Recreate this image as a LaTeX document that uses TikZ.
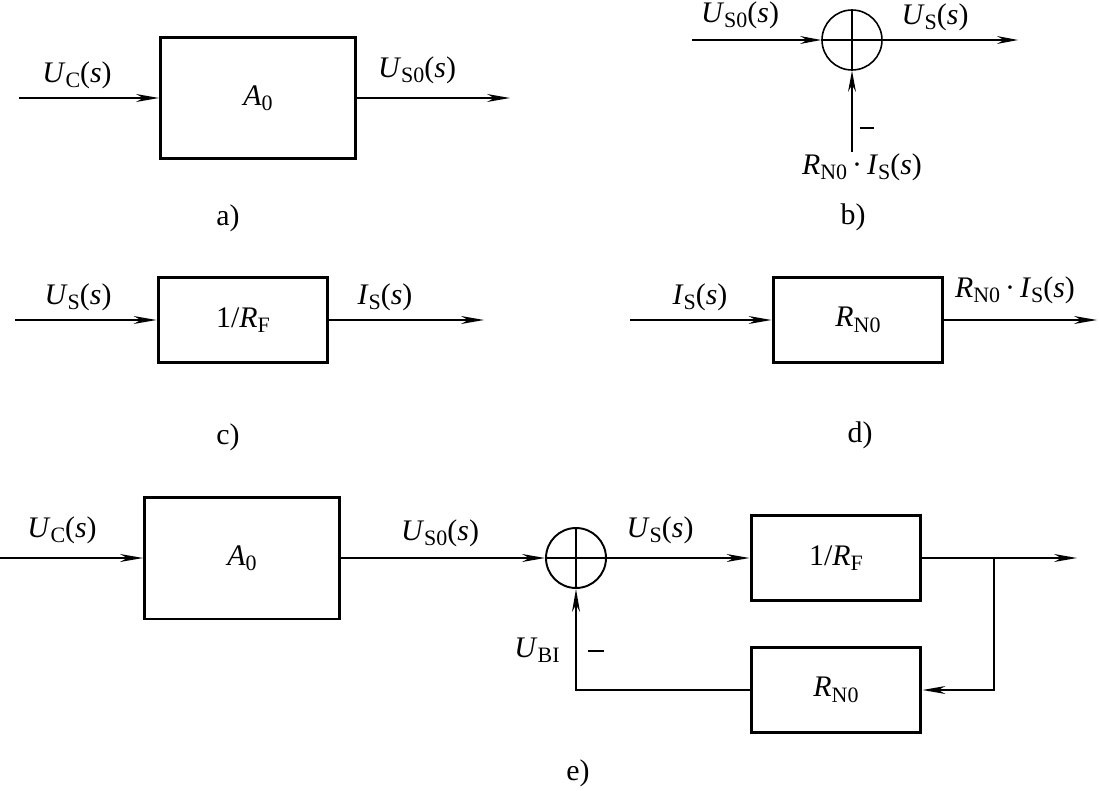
\documentclass[tikz,border=0pt]{standalone}
\usepackage{fontspec}
\setmainfont{Liberation Serif}
\usetikzlibrary{arrows.meta}
\newcommand\mysub[1]{\raisebox{-0.4ex}{\fontsize{12.5}{13}\selectfont #1}}
\newcommand\V[2]{\textit{#1}\mysub{#2}}
\begin{document}
\begin{tikzpicture}[x=0.02cm,y=-0.02cm,
  txt/.style={font=\fontsize{17}{20}\selectfont, inner sep=0pt},
  bigbox/.style={draw, line width=1.7pt, minimum width=3.9cm, minimum height=2.44cm, inner sep=0pt, font=\fontsize{17}{20}\selectfont},
  smallbox/.style={draw, line width=1.7pt, minimum width=3.4cm, minimum height=1.7cm, inner sep=0pt, font=\fontsize{17}{20}\selectfont},
  sumnode/.style={circle, draw, minimum size=1.2cm, inner sep=0pt},
  conn/.style={line width=1.1pt, -{Stealth[length=13pt,width=4.5pt,inset=4pt]}},
  thin conn/.style={line width=0.6pt, -{Stealth[length=12pt,width=4.5pt,inset=4pt]}}
]
\useasboundingbox (0,0) rectangle (1099,791);

% ---------- a) ----------
\node[bigbox] (a0) at (258,98) {\V{A}{0}};
\coordinate (ain) at (19,98);
\coordinate (aout) at (510,98);
\draw[conn] (ain) -- (a0.west);
\draw[conn] (a0.east) -- (aout);
\node[txt] (la1) at (77,75) {\V{U}{C}(\textit{s})};
\node[txt] (la2) at (417,70) {\V{U}{S0}(\textit{s})};
\node[txt] (lablea) at (228,218) {a)};

% ---------- b) ----------
\node[sumnode, line width=0.9pt] (s1) at (852,40) {};
\draw[line width=0.9pt] (s1.north) -- (s1.south);
\coordinate (bin) at (692,40);
\coordinate (bout) at (1018,40);
\coordinate (bbot) at (852,152);
\draw[thin conn] (bin) -- (s1.west);
\draw[line width=0.6pt] (s1.west) -- (s1.east);
\draw[thin conn] (s1.east) -- (bout);
\draw[thin conn] (bbot) -- (s1.south);
\node[txt] (lb1) at (740,15) {\V{U}{S0}(\textit{s})};
\node[txt] (lb2) at (935,17) {\V{U}{S}(\textit{s})};
\node[txt] (lbm) at (867,128) {\rule{0.5em}{0.7pt}};
\node[txt] (lb3) at (862,167) {\V{R}{N0}\,·\,\V{I}{S}(\textit{s})};
\node[txt] (lableb) at (853,217) {b)};

% ---------- c) ----------
\node[smallbox] (c1) at (243,320) {1/\V{R}{F}};
\coordinate (cin) at (15,320);
\coordinate (cout) at (484,320);
\draw[conn] (cin) -- (c1.west);
\draw[conn] (c1.east) -- (cout);
\node[txt] (lc1) at (78,297) {\V{U}{S}(\textit{s})};
\node[txt] (lc2) at (385,297) {\V{I}{S}(\textit{s})};
\node[txt] (lablec) at (228,437) {c)};

% ---------- d) ----------
\node[smallbox] (d1) at (858,320) {\V{R}{N0}};
\coordinate (din) at (630,320);
\coordinate (dout) at (1097,320);
\draw[conn] (din) -- (d1.west);
\draw[conn] (d1.east) -- (dout);
\node[txt] (ld1) at (700,297) {\V{I}{S}(\textit{s})};
\node[txt] (ld2) at (1015,290) {\V{R}{N0}\,·\,\V{I}{S}(\textit{s})};
\node[txt] (labled) at (860,435) {d)};

% ---------- e) ----------
\node[bigbox] (e0) at (242,558) {\V{A}{0}};
\node[sumnode, line width=1.1pt] (s2) at (576,558) {};
\draw[line width=1.1pt] (s2.north) -- (s2.south);
\node[smallbox] (ef) at (836,558) {1/\V{R}{F}};
\node[smallbox] (er) at (836,690) {\V{R}{N0}};
\coordinate (ein) at (0,558);
\coordinate (eout) at (1077,558);
\coordinate (br) at (994,558);
\draw[conn] (ein) -- (e0.west);
\draw[conn] (e0.east) -- (s2.west);
\draw[line width=1.1pt] (s2.west) -- (s2.east);
\draw[conn] (s2.east) -- (ef.west);
\draw[conn] (ef.east) -- (eout);
\draw[conn] (br) |- (er.east);
\draw[conn] (er.west) -| (s2.south);
\node[txt] (le1) at (62,530) {\V{U}{C}(\textit{s})};
\node[txt] (le2) at (440,533) {\V{U}{S0}(\textit{s})};
\node[txt] (le3) at (660,530) {\V{U}{S}(\textit{s})};
\node[txt] (le4) at (537,650) {\V{U}{BI}};
\node[txt] (lem) at (596,651) {\rule{0.55em}{1.3pt}};
\node[txt] (lablee) at (578,773) {e)};
\end{tikzpicture}
\end{document}
